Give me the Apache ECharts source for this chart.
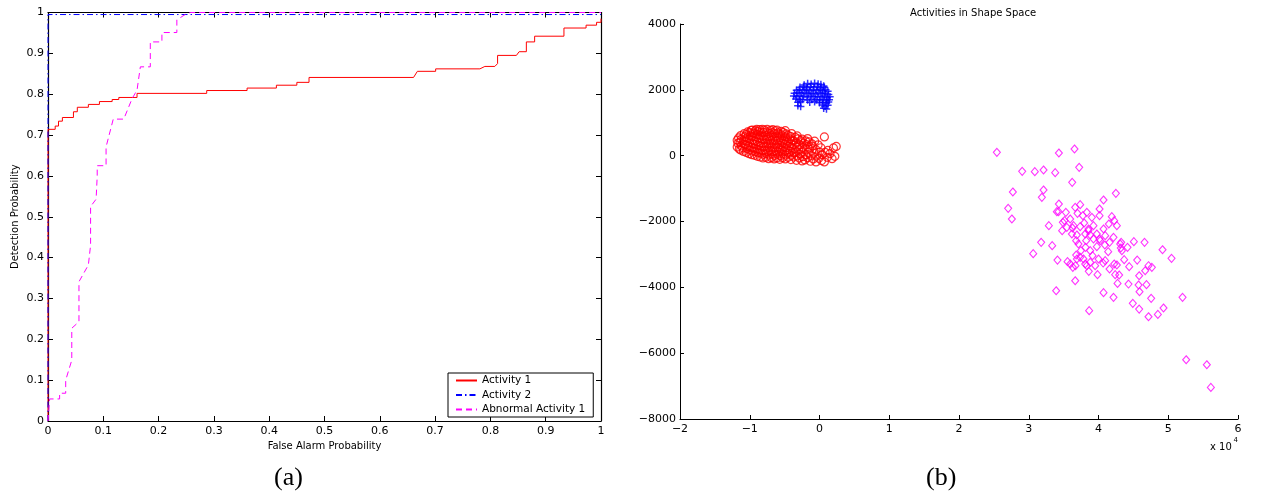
<!DOCTYPE html>
<html><head><meta charset="utf-8">
<script src="https://cdn.jsdelivr.net/npm/echarts@6/dist/echarts.min.js"></script>
<style>html,body{margin:0;padding:0;background:#fff}#c{width:1263px;height:495px}</style>
</head><body><div id="c"></div>
<script>
// ---------- data ----------
const seriesNames = ['Activity 1', 'Activity 2', 'Abnormal Activity 1'];
const rightTitle = 'Activities in Shape Space';
const leftXName = 'False Alarm Probability';
const leftYName = 'Detection Probability';

// ROC curves: [false alarm prob, detection prob]
const act1Roc = [[0,0],[0,0.714],[0.013,0.714],[0.013,0.722],[0.019,0.722],[0.019,0.734],[0.026,0.734],[0.026,0.743],[0.046,0.743],[0.046,0.757],[0.053,0.757],[0.053,0.768],[0.073,0.768],[0.073,0.775],[0.093,0.775],[0.093,0.782],[0.116,0.782],[0.116,0.787],[0.128,0.787],[0.128,0.792],[0.161,0.792],[0.161,0.802],[0.287,0.802],[0.287,0.809],[0.36,0.809],[0.36,0.815],[0.413,0.815],[0.413,0.822],[0.45,0.822],[0.45,0.829],[0.472,0.829],[0.472,0.841],[0.661,0.841],[0.668,0.856],[0.701,0.856],[0.701,0.862],[0.781,0.862],[0.79,0.868],[0.808,0.868],[0.813,0.875],[0.813,0.895],[0.847,0.895],[0.852,0.904],[0.865,0.904],[0.865,0.928],[0.88,0.928],[0.88,0.942],[0.933,0.942],[0.933,0.962],[0.973,0.962],[0.973,0.969],[0.992,0.969],[0.992,0.976],[1,0.976],[1,0.985]];
const act2Roc = [[0,0],[0,0.995],[1,0.995]];
const abnRoc = [[0,0],[0.003,0.054],[0.021,0.054],[0.021,0.068],[0.032,0.068],[0.032,0.10],[0.043,0.149],[0.043,0.227],[0.056,0.243],[0.056,0.341],[0.073,0.382],[0.077,0.43],[0.077,0.525],[0.087,0.543],[0.089,0.6],[0.089,0.625],[0.105,0.625],[0.105,0.671],[0.118,0.739],[0.137,0.739],[0.152,0.789],[0.161,0.81],[0.167,0.867],[0.185,0.867],[0.185,0.928],[0.206,0.928],[0.206,0.951],[0.233,0.951],[0.233,0.982],[0.248,0.995],[0.257,1],[1,1]];

// Shape space points: [x (x10^4), y]
const act1Pts = [[-1.18,260],[-1.17,380],[-1.18,470],[-1.16,540],[-1.15,200],
[-1.13,170],[-1.12,300],[-1.14,410],[-1.12,500],[-1.13,610],
[-1.09,130],[-1.1,240],[-1.08,350],[-1.09,460],[-1.07,580],[-1.08,670],
[-1.05,100],[-1.04,220],[-1.06,330],[-1.05,440],[-1.04,540],[-1.05,640],[-1.03,720],
[-1.01,60],[-1.0,170],[-1.02,280],[-1.0,390],[-1.01,500],[-0.99,610],[-1.0,700],[-0.98,770],
[-0.97,30],[-0.96,140],[-0.97,250],[-0.95,360],[-0.96,470],[-0.97,580],[-0.95,690],[-0.96,780],
[-0.93,10],[-0.92,120],[-0.94,230],[-0.92,340],[-0.93,450],[-0.91,560],[-0.93,670],[-0.92,760],[-0.9,800],
[-0.89,-20],[-0.88,90],[-0.9,200],[-0.88,310],[-0.89,420],[-0.87,530],[-0.89,640],[-0.88,730],[-0.86,790],
[-0.85,-40],[-0.84,70],[-0.86,180],[-0.84,290],[-0.85,400],[-0.83,510],[-0.85,620],[-0.84,710],[-0.82,800],
[-0.81,-70],[-0.8,40],[-0.82,150],[-0.8,260],[-0.81,370],[-0.79,480],[-0.81,590],[-0.8,700],[-0.79,780],
[-0.77,-50],[-0.76,60],[-0.78,170],[-0.76,280],[-0.77,390],[-0.75,500],[-0.77,610],[-0.76,720],[-0.75,800],
[-0.73,-90],[-0.72,20],[-0.74,130],[-0.72,240],[-0.73,350],[-0.71,460],[-0.73,570],[-0.72,680],[-0.7,770],
[-0.69,-60],[-0.68,50],[-0.7,160],[-0.68,270],[-0.69,380],[-0.67,490],[-0.69,600],[-0.68,700],[-0.67,790],
[-0.65,-100],[-0.64,10],[-0.66,120],[-0.64,230],[-0.65,340],[-0.63,450],[-0.65,560],[-0.64,670],[-0.63,760],
[-0.61,-70],[-0.6,40],[-0.62,150],[-0.6,260],[-0.61,370],[-0.59,480],[-0.61,590],[-0.6,690],[-0.61,780],
[-0.57,-110],[-0.56,0],[-0.58,110],[-0.56,220],[-0.57,330],[-0.55,440],[-0.57,550],[-0.56,650],[-0.55,740],
[-0.53,-60],[-0.52,50],[-0.54,160],[-0.52,270],[-0.53,380],[-0.51,490],[-0.53,600],[-0.52,700],
[-0.49,-100],[-0.48,20],[-0.5,130],[-0.48,240],[-0.49,350],[-0.47,460],[-0.49,570],[-0.48,660],[-0.49,760],
[-0.45,-50],[-0.44,70],[-0.46,180],[-0.44,290],[-0.45,400],[-0.43,510],[-0.45,620],
[-0.41,-120],[-0.4,10],[-0.42,130],[-0.4,250],[-0.41,360],[-0.39,470],[-0.41,580],[-0.4,670],
[-0.37,-40],[-0.36,90],[-0.38,210],[-0.36,330],[-0.37,450],[-0.35,560],
[-0.33,-140],[-0.32,-10],[-0.34,120],[-0.32,260],[-0.33,390],[-0.31,510],[-0.32,600],
[-0.29,-70],[-0.28,50],[-0.3,190],[-0.28,330],[-0.27,460],
[-0.25,-160],[-0.24,-30],[-0.26,110],[-0.24,250],[-0.23,380],[-0.25,500],
[-0.21,-130],[-0.2,30],[-0.22,190],[-0.19,340],[-0.2,450],
[-0.17,-60],[-0.16,100],[-0.17,270],[-0.15,420],[-0.17,520],
[-0.13,-170],[-0.12,10],[-0.14,200],[-0.11,360],
[-0.09,-100],[-0.08,80],[-0.1,290],[-0.07,440],
[-0.05,-190],[-0.04,-10],[-0.05,180],
[-0.01,-80],[0.0,110],[-0.02,330],
[0.03,-150],[0.04,30],[0.02,240],
[0.07,-190],[0.08,100],[0.07,568],
[0.11,-50],[0.12,160],
[0.15,61],[0.18,-91],[0.2,234],[0.24,280],[0.22,-20]];

const act2Pts = [[-0.22,2150],[-0.17,2190],[-0.12,2170],[-0.07,2200],[-0.02,2180],[0.02,2160],[0.06,2120],
[-0.28,2080],[-0.23,2100],[-0.18,2060],[-0.13,2090],[-0.08,2070],[-0.03,2100],[0.02,2060],[0.07,2080],
[-0.33,1990],[-0.29,2010],[-0.24,1980],[-0.19,2000],[-0.14,1970],[-0.09,2000],[-0.04,1980],[0.01,2010],[0.05,1970],[0.09,2000],[0.12,1960],
[-0.36,1900],[-0.31,1920],[-0.26,1890],[-0.21,1910],[-0.16,1880],[-0.11,1900],[-0.06,1870],[-0.01,1910],[0.04,1880],[0.08,1900],[0.13,1860],
[-0.37,1810],[-0.33,1790],[-0.28,1820],[-0.23,1800],[-0.18,1780],[-0.13,1810],[-0.08,1790],[-0.03,1800],[0.02,1780],[0.07,1810],[0.11,1770],[0.15,1790],
[-0.34,1720],[-0.29,1700],[-0.24,1710],[-0.17,1690],[-0.11,1710],[-0.05,1700],[0.0,1690],[0.05,1710],[0.1,1680],[0.14,1700],
[-0.31,1620],[-0.27,1640],[-0.14,1620],[-0.07,1640],[0.0,1610],[0.05,1620],[0.1,1600],[0.13,1630],
[-0.31,1520],[-0.27,1490],[0.04,1540],[0.08,1500],[0.12,1530],
[0.06,1440],[0.1,1420]];

const abnPts = [[2.543,101],[3.432,81],[3.656,203],[3.723,-354],[2.906,-476],[3.087,-486],[3.212,-435],[3.379,-516],[3.623,-810],[2.772,-1104],[3.212,-1043],[3.188,-1266],[2.705,-1600],[2.758,-1925],[3.432,-1469],[3.403,-1702],[4.249,-1145],[4.072,-1347],[3.288,-2127],[3.178,-2634],[3.064,-2978],[3.336,-2735],[3.412,-3171],[3.666,-3799],[3.393,-4103],[3.866,-4710],[4.072,-4163],[4.215,-4305],[4.492,-4487],[4.583,-4660],[4.717,-4893],[4.851,-4822],[4.932,-4629],[4.755,-4335],[5.205,-4305],[4.588,-4133],[4.574,-3930],[4.688,-3920],[4.430,-3900],[4.273,-3880],[4.583,-3647],[4.669,-3495],[4.717,-3343],[4.765,-3393],[4.555,-3171],[4.918,-2857],[5.047,-3120],[4.660,-2634],[4.507,-2613],[4.416,-2786],[4.325,-2634],[4.335,-2887],[4.368,-3160],[4.440,-3373],[4.263,-3322],[4.225,-3292],[4.296,-3626],[4.239,-3616],[4.158,-3444],[4.067,-3262],[3.986,-3616],[3.861,-3515],[3.833,-3343],[3.670,-3343],[3.632,-3393],[3.556,-3221],[3.680,-3019],[3.785,-3140],[3.914,-3039],[4.000,-3140],[4.139,-2917],[4.091,-2715],[3.976,-2765],[3.814,-2786],[3.823,-2583],[3.680,-2583],[3.690,-2411],[3.737,-2158],[3.642,-2127],[3.479,-2279],[3.513,-1975],[3.594,-1925],[3.666,-1570],[3.737,-1489],[3.427,-1702],[3.532,-1722],[3.833,-1722],[3.776,-1823],[3.905,-1874],[4.015,-1621],[4.015,-1823],[4.191,-1854],[4.225,-1975],[4.263,-2127],[4.148,-2077],[4.072,-2228],[3.928,-2127],[3.857,-2228],[3.809,-2380],[3.976,-2380],[4.096,-2431],[4.215,-2482],[4.158,-2634],[4.024,-2583],[3.928,-2532],[3.881,-2887],[3.747,-2887],[3.713,-2684],[3.618,-2380],[3.546,-2178],[3.489,-2026],[3.690,-3140],[3.809,-3292],[3.952,-3343],[4.096,-3191],[3.881,-3241],[4.320,-2806],[4.311,-2684],[3.737,-3089],[3.594,-3292],[3.857,-2279],[3.795,-2046],[3.699,-1752],[3.627,-2198],[3.881,-2411],[4.015,-2532],[5.257,-6199],[5.553,-6351],[5.611,-7040]];

// ---------- chart ----------
const FONT = 'DejaVu Sans';
const chart = echarts.init(document.getElementById('c'));
const minusFmt = v => (v < 0 ? '\u2212' + (-v) : String(v));
const blackLine = {onZero: false, lineStyle: {color: '#000', width: 1.2}};
const thinLine = {onZero: false, lineStyle: {color: '#000', width: 1}};
const tickIn = {inside: true, length: 5, lineStyle: {color: '#000', width: 1}};

const option = {
  animation: false,
  textStyle: {fontFamily: FONT},
  title: {
    text: rightTitle, left: 905, top: 3,
    textStyle: {fontSize: 10, fontWeight: 'normal', color: '#000', fontFamily: FONT}
  },
  legend: {
    data: seriesNames,
    orient: 'vertical',
    left: 448, top: 373,
    padding: [2, 8, 2, 7],
    itemGap: 3.5, itemWidth: 21, itemHeight: 10,
    borderColor: '#000', borderWidth: 1,
    backgroundColor: '#fff',
    itemStyle: {opacity: 0},
    textStyle: {fontSize: 10.5, color: '#000', fontFamily: FONT}
  },
  grid: [
    {left: 48, top: 12.5, width: 553, height: 408.5},
    {left: 680, top: 24, width: 558, height: 395}
  ],
  xAxis: [
    {gridIndex: 0, type: 'value', min: 0, max: 1, interval: 0.1, position: 'bottom',
     axisLine: blackLine, axisTick: tickIn, splitLine: {show: false},
     axisLabel: {color: '#000', fontSize: 11, margin: 5, fontFamily: FONT},
     name: leftXName, nameLocation: 'middle', nameGap: 20,
     nameTextStyle: {fontSize: 10, color: '#000', fontFamily: FONT}},
    {gridIndex: 0, type: 'value', min: 0, max: 1, interval: 0.1, position: 'top',
     axisLine: blackLine, axisTick: tickIn, splitLine: {show: false}, axisLabel: {show: false}},
    {gridIndex: 1, type: 'value', min: -2, max: 6, interval: 1, position: 'bottom',
     axisLine: thinLine, axisTick: {inside: true, length: 4, lineStyle: {color: '#000'}},
     splitLine: {show: false},
     axisLabel: {color: '#000', fontSize: 11, margin: 5, fontFamily: FONT, formatter: minusFmt}}
  ],
  yAxis: [
    {gridIndex: 0, type: 'value', min: 0, max: 1, interval: 0.1, position: 'left',
     axisLine: blackLine, axisTick: tickIn, splitLine: {show: false},
     axisLabel: {color: '#000', fontSize: 11, margin: 4, fontFamily: FONT},
     name: leftYName, nameLocation: 'middle', nameGap: 28, nameRotate: 90,
     nameTextStyle: {fontSize: 10, color: '#000', fontFamily: FONT}},
    {gridIndex: 0, type: 'value', min: 0, max: 1, interval: 0.1, position: 'right',
     axisLine: blackLine, axisTick: tickIn, splitLine: {show: false}, axisLabel: {show: false}},
    {gridIndex: 1, type: 'value', min: -8000, max: 4000, interval: 2000, position: 'left',
     axisLine: thinLine, axisTick: {inside: true, length: 4, lineStyle: {color: '#000'}},
     splitLine: {show: false},
     axisLabel: {color: '#000', fontSize: 11, margin: 4, fontFamily: FONT, formatter: minusFmt}}
  ],
  series: [
    {name: seriesNames[0], type: 'line', xAxisIndex: 0, yAxisIndex: 0, data: act1Roc,
     symbol: 'none', clip: false, lineStyle: {color: '#ff0000', width: 1}, itemStyle: {color: '#ff0000'}},
    {name: seriesNames[1], type: 'line', xAxisIndex: 0, yAxisIndex: 0, data: act2Roc,
     symbol: 'none', clip: false, lineStyle: {color: '#0000ff', width: 1, type: [6, 3, 1.5, 3]}, itemStyle: {color: '#0000ff'}},
    {name: seriesNames[2], type: 'line', xAxisIndex: 0, yAxisIndex: 0, data: abnRoc,
     symbol: 'none', clip: false, lineStyle: {color: '#ff00ff', width: 1, type: [6, 4]}, itemStyle: {color: '#ff00ff'}},
    {name: 'act1pts', type: 'scatter', xAxisIndex: 2, yAxisIndex: 2, data: act1Pts,
     symbol: 'circle', symbolSize: 8,
     itemStyle: {color: 'rgba(255,255,255,0)', borderColor: '#ff0000', borderWidth: 1.2}},
    {name: 'act2pts', type: 'scatter', xAxisIndex: 2, yAxisIndex: 2, data: act2Pts,
     symbol: 'path://M4,0L6,0L6,4L10,4L10,6L6,6L6,10L4,10L4,6L0,6L0,4L4,4Z', symbolSize: 7.5,
     itemStyle: {color: '#0000ff'}},
    {name: 'abnpts', type: 'scatter', xAxisIndex: 2, yAxisIndex: 2, data: abnPts,
     symbol: 'diamond', symbolSize: [7, 8],
     itemStyle: {color: 'rgba(255,255,255,0)', borderColor: '#ff00ff', borderWidth: 1.1}}
  ],
  graphic: [
    {type: 'text', left: 1210, top: 442, style: {text: 'x 10', fontSize: 10, fontFamily: FONT, fill: '#000'}},
    {type: 'text', left: 1233.5, top: 437, style: {text: '4', fontSize: 7, fontFamily: FONT, fill: '#000'}},
    {type: 'text', left: 274, top: 465, style: {text: '(a)', fontSize: 26, fontFamily: 'Liberation Serif', fill: '#000'}},
    {type: 'text', left: 926, top: 465, style: {text: '(b)', fontSize: 26, fontFamily: 'Liberation Serif', fill: '#000'}}
  ]
};
chart.setOption(option);
</script>
</body></html>
